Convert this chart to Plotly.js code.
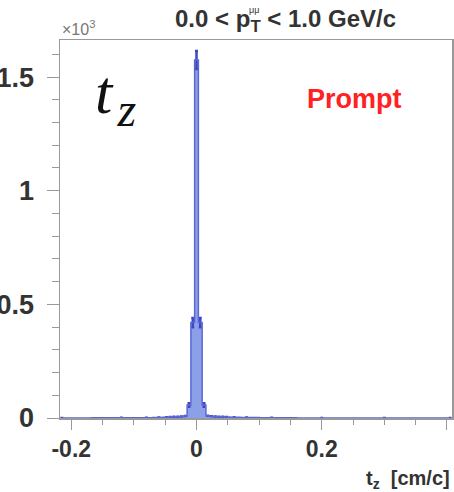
<!DOCTYPE html>
<html>
<head>
<meta charset="utf-8">
<script src="https://cdn.plot.ly/plotly-3.0.1.min.js"></script>
<style>html,body{margin:0;padding:0;background:#fff;}#chart{width:454px;height:492px;}</style>
</head>
<body>
<div id="chart"></div>
<script>
// Bin centers of t_z [cm/c] and counts (entries per bin)
var binCenters = [-0.215, -0.12, -0.08, -0.06, -0.048, -0.042, -0.036, -0.030, -0.024, -0.018, -0.012, -0.006, 0.0,
                  0.006, 0.012, 0.018, 0.024, 0.030, 0.036, 0.042, 0.048, 0.06, 0.08, 0.12, 0.2, 0.3, 0.405];
var counts     = [0, 1, 1, 2, 3, 4, 5, 6, 7, 9, 57, 420, 1575,
                  420, 57, 10, 8, 7, 6, 5, 4, 3, 2, 1, 0, 0, 0];
var yTickVals  = [0, 0.5, 1, 1.5];
var yTickText  = ['0', '0.5', '1', '1.5'];
var xTickVals  = [-0.2, 0, 0.2, 0.4];
var xTickText  = ['-0.2', '0', '0.2', '0.4'];

var yK = counts.map(function (c) { return c / 1000; });
var errK = counts.map(function (c) { return c > 20 ? Math.sqrt(c) / 1000 : 0; });

var trace = {
  type: 'scatter', mode: 'lines',
  x: binCenters, y: yK,
  line: {shape: 'hvh', color: '#5a68d4', width: 1.5},
  fill: 'tozeroy', fillcolor: 'rgba(128,150,228,0.9)',
  error_y: {type: 'data', array: errK, visible: true, color: '#3f46c4', thickness: 2.5, width: 1.5},
  hoverinfo: 'x+y'
};

var sans = 'Liberation Sans, Arial, sans-serif';

var layout = {
  width: 454, height: 492,
  margin: {l: 60, r: 2, t: 40, b: 74},
  paper_bgcolor: '#fff', plot_bgcolor: '#fff',
  showlegend: false,
  xaxis: {
    range: [-0.218, 0.408], tickvals: xTickVals, ticktext: xTickText,
    ticks: 'outside', ticklen: 10, tickwidth: 1, tickcolor: '#999',
    minor: {dtick: 0.05, tick0: 0, ticks: 'outside', ticklen: 5, tickcolor: '#999'},
    showline: true, linecolor: '#999', linewidth: 1.5, mirror: true,
    showgrid: false, zeroline: false, ticklabelstandoff: 0,
    tickfont: {family: sans, size: 23, color: '#333', weight: 'bold'}
  },
  yaxis: {
    range: [0, 1.663], tickvals: yTickVals, ticktext: yTickText,
    ticks: 'outside', ticklen: 12, tickwidth: 1, tickcolor: '#999',
    minor: {dtick: 0.1, tick0: 0, ticks: 'outside', ticklen: 7, tickcolor: '#999'},
    showline: true, linecolor: '#999', linewidth: 1.5, mirror: true,
    showgrid: false, zeroline: false, ticklabelstandoff: 7,
    tickfont: {family: sans, size: 27, color: '#333', weight: 'bold'}
  },
  annotations: [
    {text: '0.0 < p<sub>T</sub> < 1.0 GeV/c', xref: 'paper', yref: 'paper', x: 0.574, y: 1, yshift: 20,
     xanchor: 'center', yanchor: 'middle', showarrow: false,
     font: {family: sans, size: 24, color: '#333', weight: 'bold'}},
    {text: 'μμ', xref: 'paper', yref: 'paper', x: 0.478, y: 1, yshift: 30,
     xanchor: 'left', yanchor: 'middle', showarrow: false,
     font: {family: sans, size: 9, color: '#333'}},
    {text: '×10<sup>3</sup>', xref: 'paper', yref: 'paper', x: 0, y: 1, yshift: 12,
     xanchor: 'left', yanchor: 'middle', showarrow: false,
     font: {family: sans, size: 16, color: '#777'}},
    {text: '<i>t</i>&#8202;<sub><span style="font-size:48px"><i>z</i></span></sub>', xref: 'paper', yref: 'paper', x: 0.085, y: 0.85,
     xanchor: 'left', yanchor: 'middle', showarrow: false,
     font: {family: 'Liberation Serif, Times New Roman, serif', size: 62, color: '#111'}},
    {text: 'Prompt', xref: 'paper', yref: 'paper', x: 0.75, y: 0.845,
     xanchor: 'center', yanchor: 'middle', showarrow: false,
     font: {family: sans, size: 27, color: '#ff2222', weight: 'bold'}},
    {text: 't<sub>z</sub>  [cm/c]', xref: 'paper', yref: 'paper', x: 1, y: 0, yshift: -61,
     xanchor: 'right', yanchor: 'middle', showarrow: false,
     font: {family: sans, size: 20, color: '#333', weight: 'bold'}}
  ]
};

Plotly.newPlot('chart', [trace], layout, {displayModeBar: false, staticPlot: true});
</script>
</body>
</html>
